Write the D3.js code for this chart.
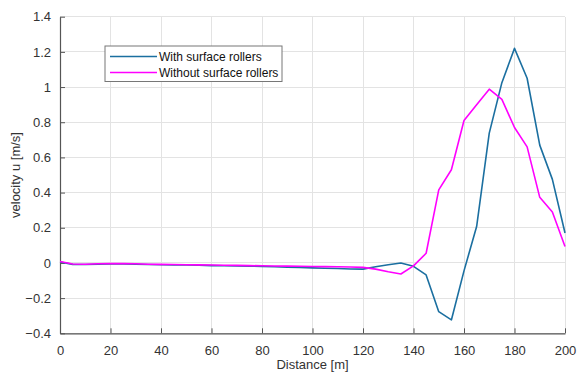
<!DOCTYPE html>
<html>
<head>
<meta charset="utf-8">
<script src="https://cdn.jsdelivr.net/npm/d3@7"></script>
<style>
  body { margin: 0; background: #fff; }
  svg { display: block; font-family: "Liberation Sans", Arial, sans-serif; }
</style>
</head>
<body>
<svg id="chart"></svg>
<script>
// distances sampled every 5 m
const distance = d3.range(0, 201, 5);
const withRollers = [
  0.005, -0.008, -0.009, -0.007, -0.006, -0.006, -0.007, -0.009, -0.010, -0.011,
  -0.012, -0.013, -0.015, -0.016, -0.017, -0.018, -0.020, -0.022, -0.024, -0.026,
  -0.028, -0.030, -0.032, -0.034, -0.035, -0.022, -0.010, 0.000, -0.019, -0.068,
  -0.277, -0.324, -0.045, 0.207, 0.738, 1.025, 1.220, 1.050, 0.670, 0.475, 0.170
];
const withoutRollers = [
  0.008, -0.006, -0.007, -0.005, -0.004, -0.004, -0.005, -0.007, -0.008, -0.009,
  -0.010, -0.011, -0.012, -0.013, -0.014, -0.015, -0.016, -0.017, -0.018, -0.019,
  -0.020, -0.021, -0.022, -0.023, -0.025, -0.035, -0.050, -0.063, -0.017, 0.055,
  0.415, 0.530, 0.810, 0.900, 0.988, 0.930, 0.770, 0.660, 0.373, 0.290, 0.093
];
const xTicks = [0, 20, 40, 60, 80, 100, 120, 140, 160, 180, 200];
const yTicks = [-0.4, -0.2, 0, 0.2, 0.4, 0.6, 0.8, 1, 1.2, 1.4];
const seriesNames = ["With surface rollers", "Without surface rollers"];
const seriesColors = ["#1b6fa0", "#ff00ff"];

const W = 577, H = 373;
const margin = { top: 16.7, right: 12, bottom: 39.7, left: 60 };
const width = W - margin.left - margin.right;
const height = H - margin.top - margin.bottom;

const svg = d3.select("#chart").attr("width", W).attr("height", H);
const g = svg.append("g").attr("transform", `translate(${margin.left},${margin.top})`);

const x = d3.scaleLinear().domain([0, 200]).range([0, width]);
const y = d3.scaleLinear().domain([-0.4, 1.4]).range([height, 0]);

// grid
g.selectAll(".vgrid").data(xTicks).enter().append("line")
  .attr("x1", d => x(d)).attr("x2", d => x(d))
  .attr("y1", 0).attr("y2", height)
  .attr("stroke", "#e3e3e3").attr("stroke-width", 1)
  .attr("shape-rendering", "crispEdges");
g.selectAll(".hgrid").data(yTicks).enter().append("line")
  .attr("x1", 0).attr("x2", width)
  .attr("y1", d => y(d)).attr("y2", d => y(d))
  .attr("stroke", "#e3e3e3").attr("stroke-width", 1)
  .attr("shape-rendering", "crispEdges");

// axes (ticks pointing inward, MATLAB style)
const xAxis = g.append("g")
  .attr("transform", `translate(0,${height})`)
  .call(d3.axisBottom(x).tickValues(xTicks).tickSize(-5).tickSizeOuter(0).tickPadding(12).tickFormat(d3.format("d")));
const yAxis = g.append("g")
  .call(d3.axisLeft(y).tickValues(yTicks).tickSize(-5).tickSizeOuter(0).tickPadding(9).tickFormat(d => d3.format("~g")(d)));

[xAxis, yAxis].forEach(a => {
  a.select(".domain").attr("stroke", "#555").attr("stroke-width", 1.2);
  a.selectAll(".tick line").attr("stroke", "#555");
  a.selectAll("text").attr("fill", "#333").attr("font-size", 13)
    .attr("font-family", "'Liberation Sans', Arial, sans-serif");
});

// lines
const line = d3.line().x((d, i) => x(distance[i])).y(d => y(d));
[withRollers, withoutRollers].forEach((s, k) => {
  g.append("path").datum(s)
    .attr("fill", "none")
    .attr("stroke", seriesColors[k])
    .attr("stroke-width", 1.6)
    .attr("stroke-linejoin", "round")
    .attr("d", line);
});

// axis labels
svg.append("text")
  .attr("x", margin.left + width / 2).attr("y", 369)
  .attr("text-anchor", "middle").attr("font-size", 13).attr("fill", "#333")
  .text("Distance [m]");
svg.append("text")
  .attr("transform", `translate(20,${margin.top + y(0.5)}) rotate(-90)`)
  .attr("text-anchor", "middle").attr("font-size", 13).attr("fill", "#333")
  .text("velocity u [m/s]");

// legend
const lg = svg.append("g").attr("transform", "translate(105,46)");
lg.append("rect").attr("width", 177).attr("height", 35.5)
  .attr("fill", "#fff").attr("stroke", "#777").attr("stroke-width", 1);
seriesNames.forEach((name, i) => {
  const yy = 10.5 + i * 16;
  lg.append("line").attr("x1", 5).attr("x2", 52).attr("y1", yy).attr("y2", yy)
    .attr("stroke", seriesColors[i]).attr("stroke-width", 1.6);
  lg.append("text").attr("x", 54).attr("y", yy + 4.3)
    .attr("font-size", 12).attr("fill", "#111").text(name);
});
</script>
</body>
</html>
